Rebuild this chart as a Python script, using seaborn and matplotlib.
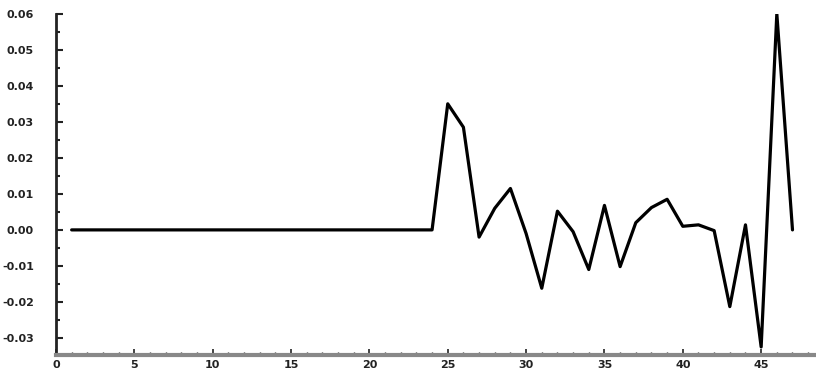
import numpy as np
import pandas as pd
import matplotlib
matplotlib.use("Agg")
import matplotlib.pyplot as plt
from matplotlib.ticker import MultipleLocator, FormatStrFormatter
import seaborn as sns

# ── Data ──────────────────────────────────────────────────
steps = list(range(1, 48))
values = [0.0] * 23 + [
    0.0,      # 24
    0.0350,   # 25
    0.0285,   # 26
    -0.0020,  # 27
    0.0060,   # 28
    0.0115,   # 29
    -0.0010,  # 30
    -0.0162,  # 31
    0.0052,   # 32
    -0.0005,  # 33
    -0.0110,  # 34
    0.0068,   # 35
    -0.0102,  # 36
    0.0020,   # 37
    0.0062,   # 38
    0.0085,   # 39
    0.0010,   # 40
    0.0014,   # 41
    -0.0002,  # 42
    -0.0213,  # 43
    0.0014,   # 44
    -0.0325,  # 45
    0.0600,   # 46
    0.0,      # 47
]

df = pd.DataFrame({"step": steps, "value": values})

# ── Plot ──────────────────────────────────────────────────
sns.set_style("ticks")
plt.rcParams["font.family"] = ["DejaVu Sans"]

fig = plt.figure(figsize=(8.16, 3.72), dpi=100)
ax = fig.add_axes([0.0686, 0.046, 0.9314, 0.917])

sns.lineplot(data=df, x="step", y="value", color="black", linewidth=2.3, ax=ax)

ax.set_xlim(0, 48.5)
ax.set_ylim(-0.0347, 0.06)
ax.set_xlabel("")
ax.set_ylabel("")

ax.xaxis.set_major_locator(MultipleLocator(5))
ax.xaxis.set_minor_locator(MultipleLocator(1))
ax.yaxis.set_major_locator(MultipleLocator(0.01))
ax.yaxis.set_minor_locator(MultipleLocator(0.005))
ax.yaxis.set_major_formatter(FormatStrFormatter("%.2f"))

ax.tick_params(axis="both", which="both", direction="in", colors="#222222")
ax.tick_params(axis="y", which="major", length=5, width=1.5, pad=16)
ax.tick_params(axis="y", which="minor", length=3, width=1.5)
ax.tick_params(axis="x", which="major", length=4, width=1.2, pad=4)
ax.tick_params(axis="x", which="minor", length=2, width=1.0)

for lab in ax.get_xticklabels() + ax.get_yticklabels():
    lab.set_fontsize(8)
    lab.set_fontweight("bold")

sns.despine(ax=ax)
ax.spines["left"].set_linewidth(2.0)
ax.spines["left"].set_color("#222222")
ax.spines["bottom"].set_linewidth(3.0)
ax.spines["bottom"].set_color("#888888")

fig.savefig("out.png", dpi=100)
plt.close(fig)
